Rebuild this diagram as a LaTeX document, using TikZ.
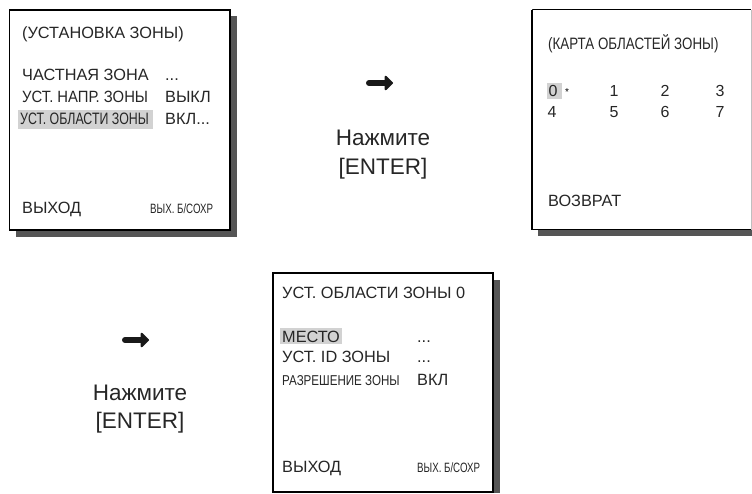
\documentclass[tikz,border=0pt]{standalone}
\usepackage{fontspec}
\setmainfont{Liberation Sans}
\newfontfamily\condfont[FakeStretch=0.75]{Liberation Sans}
\newfontfamily\condfontw[FakeStretch=0.81]{Liberation Sans}
\newfontfamily\condfonts[FakeStretch=0.72]{Liberation Sans}
\newfontfamily\narrowfont[FakeStretch=0.91]{Liberation Sans}
\usetikzlibrary{arrows.meta}
\definecolor{shadowgray}{HTML}{555555}
\definecolor{hlgray}{HTML}{D2D2D2}
\tikzset{
  screen/.style={draw=black, line width=1.1pt, fill=white},
  shadow/.style={fill=shadowgray, draw=none},
  hl/.style={fill=hlgray, draw=none},
  txt/.style={anchor=base west, inner sep=0pt, font=\fontsize{16.3}{19}\selectfont, text=black!85},
  ntxt/.style={anchor=base west, inner sep=0pt, font=\narrowfont\fontsize{16.3}{19}\selectfont, text=black!85},
  ctxt/.style={anchor=base west, inner sep=0pt, font=\condfont\fontsize{16.5}{19}\selectfont, text=black!85},
  wtxt/.style={anchor=base west, inner sep=0pt, font=\condfontw\fontsize{16.5}{19}\selectfont, text=black!85},
  stxt/.style={anchor=base west, inner sep=0pt, font=\condfonts\fontsize{13.5}{16}\selectfont, text=black!85},
  mtxt/.style={anchor=base west, inner sep=0pt, font=\condfontw\fontsize{14.3}{17}\selectfont, text=black!85},
  num/.style={anchor=base, inner sep=0pt, font=\fontsize{16}{18}\selectfont, text=black!85},
  presstxt/.style={anchor=base, inner sep=0pt, font=\fontsize{22.5}{26}\selectfont, text=black!85},
  bigarrow/.style={line width=6pt, line cap=round, black!90, -{Triangle[round, length=9pt, width=17pt]}}
}
\begin{document}
\begin{tikzpicture}[x=1pt, y=-1pt]
\useasboundingbox (0,0) rectangle (752,493);
% ---- Box 1
\fill[shadow] (16,16) rectangle (237,237);
\draw[screen] (9.5,10) rectangle (230,230);
\fill[hl] (18,110) rectangle (153,128.5);
\node[txt] (t1) at (22,38) {(УСТАНОВКА ЗОНЫ)};
\node[txt] (a1) at (22,80) {ЧАСТНАЯ ЗОНА};
\node[txt] (a1v) at (165,80) {...};
\node[ntxt] (a2) at (22,102) {УСТ. НАПР. ЗОНЫ};
\node[txt] (a2v) at (165,102) {ВЫКЛ};
\node[ctxt] (a3) at (20,124) {УСТ. ОБЛАСТИ ЗОНЫ};
\node[txt] (a3v) at (165,124) {ВКЛ...};
\node[txt] (e1) at (22,213) {ВЫХОД};
\node[stxt] (s1) at (150,213) {ВЫХ. Б/СОХР};
% ---- Arrow 1
\coordinate (p1s) at (369,83);
\coordinate (p1e) at (393,83);
\draw[bigarrow] (p1s) -- (p1e);
\node[presstxt] (n1) at (383,145) {Нажмите};
\node[presstxt] (en1) at (383,174) {[ENTER]};
% ---- Box 2
\fill[shadow] (538,230) rectangle (752,236);
\draw[screen] (532,9.5) -- (751,9.5);
\draw[screen] (532,9.5) -- (532,229.5) -- (751,229.5);
\draw[line width=0.6pt, black!25] (751,9.5) -- (751,229.5);
\node[wtxt] (t2) at (548,49) {(КАРТА ОБЛАСТЕЙ ЗОНЫ)};
\fill[hl] (547,83) rectangle (562,99);
\node[num] (d0) at (553,96) {0};
\node[anchor=base, inner sep=0pt, font=\fontsize{10}{12}\selectfont] (star) at (567,95) {*};
\node[num] (d1) at (614,96) {1};
\node[num] (d2) at (665,96) {2};
\node[num] (d3) at (720,96) {3};
\node[num] (d4) at (552,117) {4};
\node[num] (d5) at (614,117) {5};
\node[num] (d6) at (665,117) {6};
\node[num] (d7) at (720,117) {7};
\node[txt] (r2) at (548,206) {ВОЗВРАТ};
% ---- Arrow 2
\coordinate (p2s) at (125,340);
\coordinate (p2e) at (149,340);
\draw[bigarrow] (p2s) -- (p2e);
\node[presstxt] (n2) at (140,400) {Нажмите};
\node[presstxt] (en2) at (140,428) {[ENTER]};
% ---- Box 3
\fill[shadow] (493,280) rectangle (500,493);
\draw[screen] (273,273) rectangle (493,492);
\node[txt] (t3) at (282,298) {УСТ. ОБЛАСТИ ЗОНЫ 0};
\fill[hl] (280,327.5) rectangle (342,344);
\node[txt] (b1) at (282,342) {МЕСТО};
\node[txt] (b1v) at (417,342) {...};
\node[txt] (b2) at (282,362) {УСТ. ID ЗОНЫ};
\node[txt] (b2v) at (417,362) {...};
\node[mtxt] (b3) at (282,385) {РАЗРЕШЕНИЕ ЗОНЫ};
\node[txt] (b3v) at (417,385) {ВКЛ};
\node[txt] (e3) at (282,472) {ВЫХОД};
\node[stxt] (s3) at (417,472) {ВЫХ. Б/СОХР};
\end{tikzpicture}
\end{document}
